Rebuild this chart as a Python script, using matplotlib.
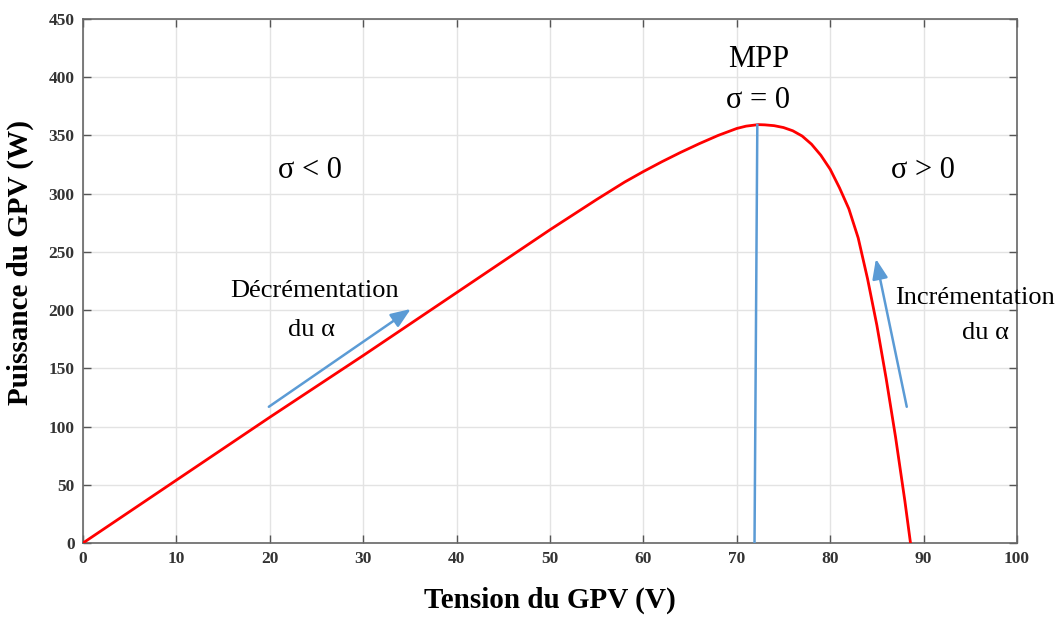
import matplotlib.pyplot as plt

# P-V curve of the PV generator
tension = [0, 10, 20, 30, 40, 45, 50, 55, 58, 60, 62, 64, 66, 68, 70, 71, 72.3,
           73, 74, 75, 76, 77, 78, 79, 80, 81, 82, 83, 84, 85, 86, 87, 88, 88.6]
puissance = [0, 54, 108, 161, 215, 242, 269, 295, 310, 319, 327.5, 335.5, 343,
             350, 356, 358, 359.3, 359.1, 358.4, 356.8, 354, 349.5, 342.5, 333,
             321, 305, 287, 262, 227, 187, 141, 91, 36, 0]

# MPP marker line
mpp_v = [71.9, 72.2]
mpp_p = [0, 359]

# arrows (tail, head)
arrow_dec = [(19.9, 117), (35.1, 201)]
arrow_inc = [(88.2, 117), (84.9, 244)]

xticks = list(range(0, 101, 10))
yticks = list(range(0, 451, 50))

blue = '#5B9BD5'
serif = ['Liberation Serif', 'DejaVu Serif']

fig = plt.figure(figsize=(10.61, 6.17), dpi=100)
ax = fig.add_axes([0.0782, 0.1199, 0.8803, 0.8493])

ax.plot(tension, puissance, color='red', lw=2.0, zorder=3)
ax.plot(mpp_v, mpp_p, color=blue, lw=1.8, zorder=3)

for (x0, y0), (x1, y1) in (arrow_dec, arrow_inc):
    ax.annotate('', xy=(x1, y1), xytext=(x0, y0),
                arrowprops=dict(arrowstyle='-|>,head_length=1.2,head_width=0.47',
                                color=blue, lw=1.8, shrinkA=0, shrinkB=0))

ax.set_xlim(0, 100)
ax.set_ylim(0, 450)
ax.set_xticks(xticks)
ax.set_yticks(yticks)
ax.grid(True, color='#e3e3e3', lw=1.0)
ax.set_axisbelow(True)
ax.tick_params(direction='in', length=6, width=1, top=True, right=True,
               colors='#555555', labelcolor='#333333', pad=6)
for lab in ax.get_xticklabels() + ax.get_yticklabels():
    lab.set_family(serif)
    lab.set_fontweight('bold')
    lab.set_fontsize(12.5)
for sp in ax.spines.values():
    sp.set_color('#666666')
    sp.set_linewidth(1.2)

ax.set_xlabel('Tension du GPV (V)', family=serif, fontweight='bold',
              fontsize=21, labelpad=14)
ax.set_ylabel('Puissance du GPV (W)', family=serif, fontweight='bold',
              fontsize=21)
ax.yaxis.set_label_coords(-0.052, 0.535)

txt = dict(family=serif, ha='center', va='center', color='black')
ax.text(72.3, 415, 'MPP', fontsize=22, **txt)
ax.text(72.3, 380, 'σ = 0', fontsize=22, **txt)
ax.text(24.3, 320, 'σ < 0', fontsize=22, **txt)
ax.text(89.9, 320, 'σ > 0', fontsize=22, **txt)
ax.text(24.8, 216, 'Décrémentation', fontsize=19, **txt)
ax.text(24.5, 183, 'du α', fontsize=19, **txt)
ax.text(95.5, 210, 'Incrémentation', fontsize=19, clip_on=False, **txt)
ax.text(96.6, 180, 'du α', fontsize=19, **txt)

fig.savefig('out.png', dpi=100)
